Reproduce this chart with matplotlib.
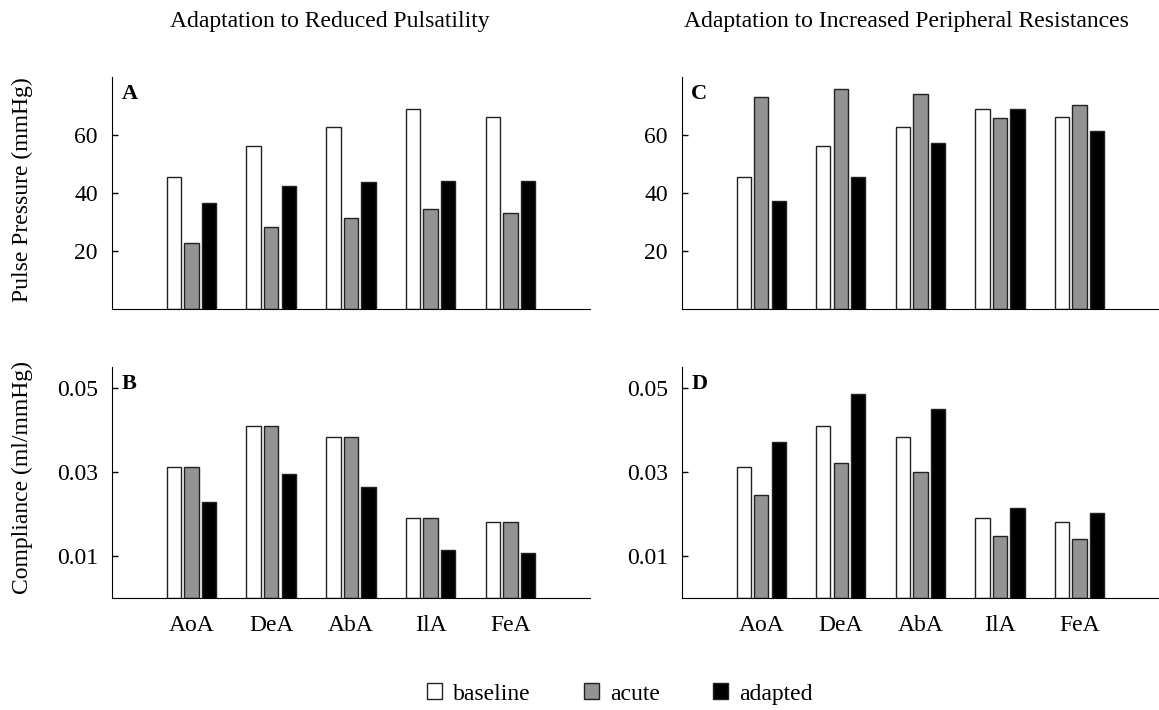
import numpy as np
import matplotlib.pyplot as plt
from matplotlib.patches import Patch

plt.rcParams['font.family'] = ['Liberation Serif', 'DejaVu Serif']
plt.rcParams['font.size'] = 17

vessels = ['AoA', 'DeA', 'AbA', 'IlA', 'FeA']
series = ['baseline', 'acute', 'adapted']
colors = ['white', '#939396', 'black']

# pulse pressure (mmHg)
pp_baseline = [45.5, 56.3, 62.9, 68.9, 66.2]
pp_acute_pulsatility = [22.8, 28.2, 31.5, 34.4, 33.1]
pp_adapted_pulsatility = [36.7, 42.4, 43.8, 44.1, 44.3]
pp_acute_resistance = [73.3, 75.9, 74.3, 66.1, 70.6]
pp_adapted_resistance = [37.4, 45.5, 57.3, 69.0, 61.3]

# compliance (ml/mmHg)
c_baseline = [0.0313, 0.0410, 0.0383, 0.0192, 0.0182]
c_acute_pulsatility = [0.0313, 0.0410, 0.0383, 0.0192, 0.0182]
c_adapted_pulsatility = [0.0230, 0.0297, 0.0266, 0.0116, 0.0107]
c_acute_resistance = [0.0246, 0.0322, 0.0300, 0.0149, 0.0142]
c_adapted_resistance = [0.0373, 0.0486, 0.0451, 0.0214, 0.0204]

fig = plt.figure(figsize=(11.59, 7.10), dpi=100)

axA = fig.add_axes([0.0964, 0.5652, 0.4127, 0.3259])
axB = fig.add_axes([0.0964, 0.1573, 0.4127, 0.3254])
axC = fig.add_axes([0.5882, 0.5652, 0.4118, 0.3259])
axD = fig.add_axes([0.5882, 0.1573, 0.4118, 0.3254])

panels = [
    (axA, 'A', [pp_baseline, pp_acute_pulsatility, pp_adapted_pulsatility], 80, [20, 40, 60], ['20', '40', '60']),
    (axB, 'B', [c_baseline, c_acute_pulsatility, c_adapted_pulsatility], 0.055, [0.01, 0.03, 0.05], ['0.01', '0.03', '0.05']),
    (axC, 'C', [pp_baseline, pp_acute_resistance, pp_adapted_resistance], 80, [20, 40, 60], ['20', '40', '60']),
    (axD, 'D', [c_baseline, c_acute_resistance, c_adapted_resistance], 0.055, [0.01, 0.03, 0.05], ['0.01', '0.03', '0.05']),
]

x = np.arange(1, len(vessels) + 1)
for ax, letter, data, ytop, yt, ytl in panels:
    for i, vals in enumerate(data):
        ax.bar(x + (i - 1) * 0.22, vals, width=0.18, color=colors[i],
               edgecolor='#222222', linewidth=1)
    ax.set_xlim(0, 6)
    ax.set_ylim(0, ytop)
    ax.set_yticks(yt)
    ax.set_yticklabels(ytl)
    ax.tick_params(axis='y', direction='in', length=4, width=1, pad=10)
    ax.tick_params(axis='x', length=0, pad=12)
    ax.spines['top'].set_visible(False)
    ax.spines['right'].set_visible(False)
    ax.text(0.02, 0.97, letter, transform=ax.transAxes, fontweight='bold',
            fontsize=16, va='top', ha='left')
    if ax in (axB, axD):
        ax.set_xticks(x)
        ax.set_xticklabels(vessels)
    else:
        ax.set_xticks([])

fig.text(22 / 1159, 1 - 190 / 710, 'Pulse Pressure (mmHg)', rotation=90, ha='center', va='center')
fig.text(22 / 1159, 1 - 477 / 710, 'Compliance (ml/mmHg)', rotation=90, ha='center', va='center')

fig.text(330 / 1159, 1 - 21 / 710, 'Adaptation to Reduced Pulsatility', ha='center', va='center')
fig.text(906 / 1159, 1 - 21 / 710, 'Adaptation to Increased Peripheral Resistances', ha='center', va='center')

handles = [Patch(facecolor=c, edgecolor='#222222', linewidth=1) for c in colors]
fig.legend(handles, series, loc='center', bbox_to_anchor=(620 / 1159, 1 - 694 / 710),
           ncol=3, frameon=False, handlelength=0.64, handleheight=0.64,
           columnspacing=2.25, handletextpad=0.47)

fig.savefig('out.png', dpi=100)
